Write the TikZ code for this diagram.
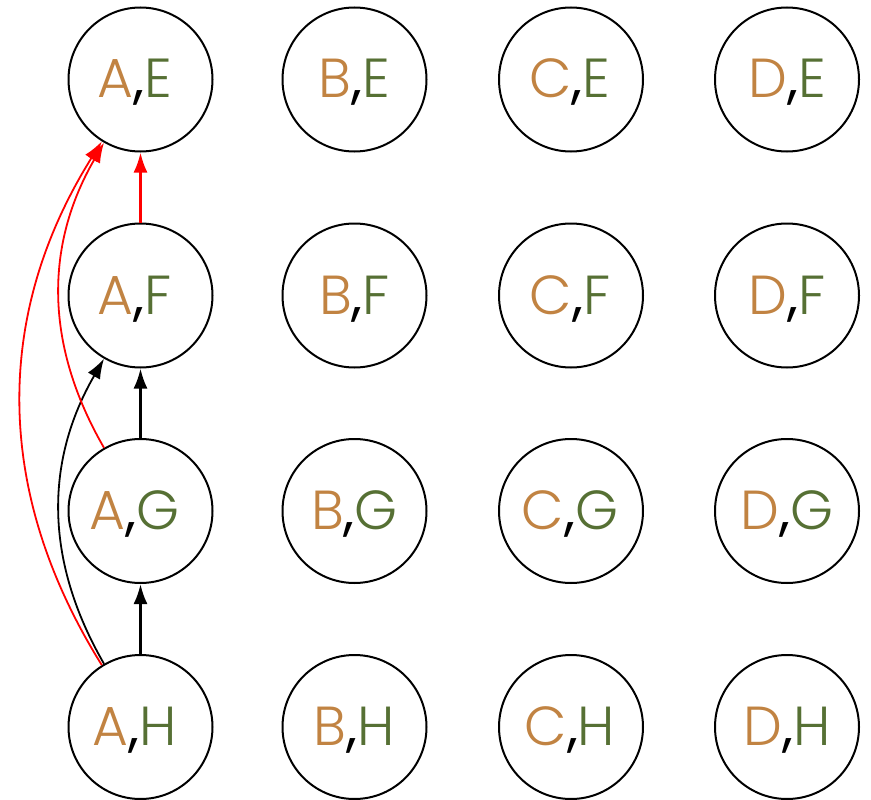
\documentclass[tikz,border=0pt]{standalone}
\usepackage{fontspec}
\newfontfamily\pairfont{Poppins Light}[BoldFont=Poppins]
\usepackage{tikz}
\usetikzlibrary{arrows.meta,positioning}
\definecolor{rowA}{RGB}{193,131,66}
\definecolor{colE}{RGB}{86,112,52}
\tikzset{
  %% grid states
  pairNode/.style={draw=black, line width=2pt, circle, minimum size=144pt,
    inner sep=0pt, font=\pairfont\fontsize{55}{60}\selectfont, text height=37pt, text depth=0pt},
  %% transitions
  stepArrow/.style={-{Latex[length=20pt,width=14pt]}, line width=2.6pt},
  jumpArrow/.style={-{Latex[length=20pt,width=14pt]}, line width=1.8pt},
}
\begin{document}
\begin{tikzpicture}[x=1pt, y=-1pt]
\useasboundingbox (0,0) rectangle (871,800);

%% 4x4 grid of pairs (\k nudges the label sideways)
\foreach \c/\cx/\k in {A/140.5/-12, B/354.5/0, C/571/-2, D/787/0}
  \foreach \r/\ry in {E/79.5, F/295.5, G/511, H/727}
    \node[pairNode] (\c\r) at (\cx,\ry)
      {\kern\k pt\textcolor{rowA}{\c}\textbf{,}\textcolor{colE}{\r}};

%% black moves up the first column
\draw[stepArrow] (AH) -- (AG);
\draw[stepArrow] (AG) -- (AF);
\draw[jumpArrow] (AH) to[bend left=30] (AF);

%% red moves into A,E
\draw[stepArrow, red] (AF) -- (AE);
\draw[jumpArrow, red] (AG) to[bend left=30] (AE);
\draw[jumpArrow, red] (AH) to[bend left=32] (AE);

\end{tikzpicture}
\end{document}
